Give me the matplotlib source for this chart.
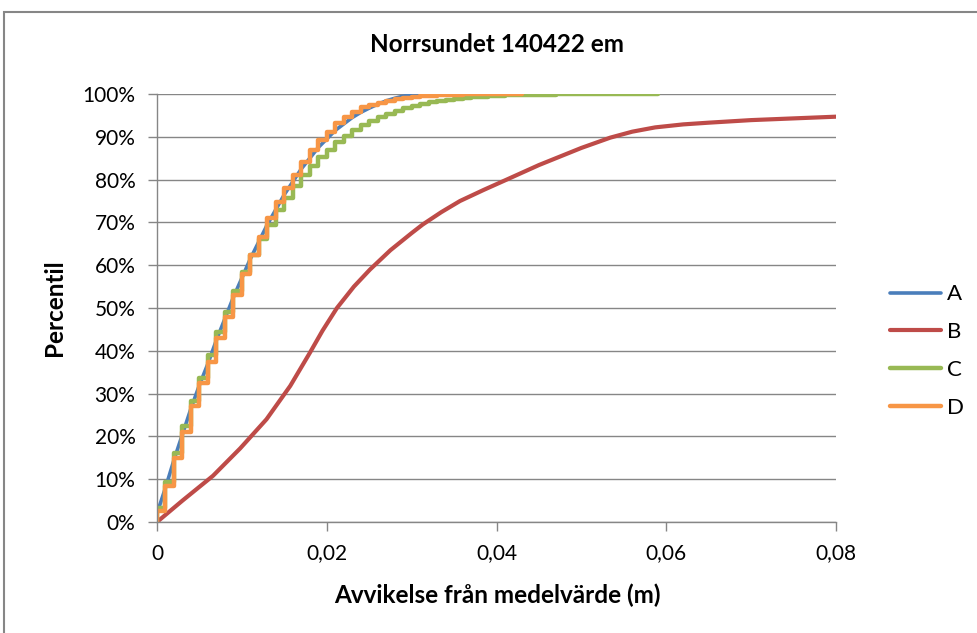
import matplotlib
matplotlib.use("Agg")
import matplotlib.pyplot as plt
from matplotlib.patches import Rectangle
import numpy as np

plt.rcParams['font.family'] = ['Lato', 'DejaVu Sans']

title = "Norrsundet 140422 em"
x_label = "Avvikelse från medelvärde (m)"
y_label = "Percentil"
series_names = ["A", "B", "C", "D"]
x_ticks = [0, 0.02, 0.04, 0.06, 0.08]
x_tick_labels = ["0", "0,02", "0,04", "0,06", "0,08"]
y_ticks = [0, 0.1, 0.2, 0.3, 0.4, 0.5, 0.6, 0.7, 0.8, 0.9, 1.0]
y_tick_labels = ["0%", "10%", "20%", "30%", "40%", "50%", "60%", "70%", "80%", "90%", "100%"]

# A: smooth curve (deviation in m, percentile)
a_x = [0, 0.001, 0.002, 0.003, 0.004, 0.005, 0.006, 0.007, 0.008, 0.009, 0.010,
       0.011, 0.012, 0.013, 0.014, 0.015, 0.016, 0.017, 0.018, 0.019, 0.020,
       0.021, 0.022, 0.023, 0.024, 0.025, 0.026, 0.027, 0.028, 0.029, 0.030,
       0.031, 0.032, 0.033]
a_y = [0.02, 0.08, 0.145, 0.205, 0.265, 0.32, 0.37, 0.425, 0.475, 0.525, 0.57,
       0.615, 0.655, 0.695, 0.73, 0.765, 0.795, 0.825, 0.85, 0.875, 0.895,
       0.915, 0.93, 0.945, 0.957, 0.967, 0.976, 0.984, 0.99, 0.995, 0.998,
       0.999, 1.0, 1.0]

# B: smooth curve
b_x = [0, 0.003, 0.0066, 0.0098, 0.0129, 0.0157, 0.018, 0.0195, 0.0212, 0.0232,
       0.0251, 0.0275, 0.030, 0.0313, 0.0335, 0.0357, 0.0385, 0.0412, 0.045,
       0.050, 0.0534, 0.056, 0.0587, 0.062, 0.065, 0.070, 0.075, 0.08]
b_y = [0, 0.05, 0.108, 0.172, 0.24, 0.318, 0.395, 0.447, 0.50, 0.55,
       0.59, 0.635, 0.675, 0.695, 0.724, 0.75, 0.776, 0.80, 0.834,
       0.874, 0.898, 0.912, 0.922, 0.929, 0.933, 0.939, 0.943, 0.947]

# C and D: values are in whole mm, percentile level at each mm step (0, 1, 2 ... mm)
c_levels = [0.033, 0.094, 0.162, 0.224, 0.283, 0.336, 0.39, 0.445, 0.491, 0.54,
            0.585, 0.625, 0.662, 0.695, 0.728, 0.758, 0.785, 0.81, 0.832, 0.852,
            0.87, 0.887, 0.902, 0.915, 0.927, 0.937, 0.946, 0.954, 0.961, 0.967,
            0.973, 0.977, 0.981, 0.984, 0.987, 0.989, 0.991, 0.993, 0.994, 0.995,
            0.996, 0.997, 0.997, 0.998, 0.998, 0.998, 0.998, 0.999, 0.999, 0.999,
            0.999, 0.999, 0.999, 1.0, 1.0, 1.0, 1.0, 1.0, 1.0, 1.0]
d_levels = [0.025, 0.085, 0.15, 0.21, 0.27, 0.325, 0.375, 0.43, 0.48, 0.53,
            0.58, 0.625, 0.667, 0.71, 0.748, 0.78, 0.811, 0.842, 0.869, 0.893,
            0.912, 0.932, 0.947, 0.959, 0.969, 0.975, 0.98, 0.984, 0.988, 0.991,
            0.993, 0.995, 0.996, 0.997, 0.998, 0.998, 0.999, 0.999, 0.999, 0.999,
            1.0, 1.0, 1.0, 1.0]

colors = ["#4A7EBB", "#BE4B48", "#98B954", "#F79646"]
grid_col = "#868686"

fig = plt.figure(figsize=(9.77, 6.33), dpi=100)
ax = fig.add_axes([157/977, 1-522/633, (836-157)/977, (522-94)/633])

def steps(levels):
    x = np.concatenate([[0], np.arange(len(levels)) / 1000.0])
    y = np.concatenate([[0], levels])
    return x, y

kw = dict(solid_joinstyle='round', solid_capstyle='round')
ax.plot(a_x, a_y, color=colors[0], lw=2.6, label=series_names[0], **kw)
ax.plot(b_x, b_y, color=colors[1], lw=3.0, label=series_names[1], **kw)
cx, cy = steps(c_levels)
ax.plot(cx, cy, color=colors[2], lw=3.2, drawstyle='steps-post', label=series_names[2], **kw)
dx, dy = steps(d_levels)
ax.plot(dx, dy, color=colors[3], lw=3.2, drawstyle='steps-post', label=series_names[3], **kw)

ax.set_xlim(0, 0.08)
ax.set_ylim(0, 1)
ax.set_xticks(x_ticks)
ax.set_xticklabels(x_tick_labels)
ax.set_yticks(y_ticks)
ax.set_yticklabels(y_tick_labels)
ax.tick_params(labelsize=15, colors=grid_col, labelcolor="black", length=6.5, width=1, pad=9)
ax.grid(axis='y', color=grid_col, lw=1)
ax.set_axisbelow(True)
for s in ["top", "right"]:
    ax.spines[s].set_visible(False)
for s in ["left", "bottom"]:
    ax.spines[s].set_color(grid_col)
    ax.spines[s].set_linewidth(1)

fig.text(497/977, 1-45/633, title, ha='center', va='center', fontsize=17.5, fontweight='bold')
fig.text(497/977, 1-595/633, x_label, ha='center', va='center', fontsize=17.5, fontweight='bold')
fig.text(55/977, 1-308/633, y_label, ha='center', va='center', rotation=90, fontsize=17.5, fontweight='bold')

leg = ax.legend(loc='center left', bbox_to_anchor=(890/977, 1-351/633), bbox_transform=fig.transFigure,
                frameon=False, fontsize=16, handlelength=2.3, handletextpad=0.25, labelspacing=0.8,
                borderaxespad=0, borderpad=0)

fig.patches.append(Rectangle((4/977, -0.1), 1.2, 1.1 - 12/633, transform=fig.transFigure,
                             fill=False, edgecolor=grid_col, lw=1.5))

plt.savefig("out.png", dpi=100)
